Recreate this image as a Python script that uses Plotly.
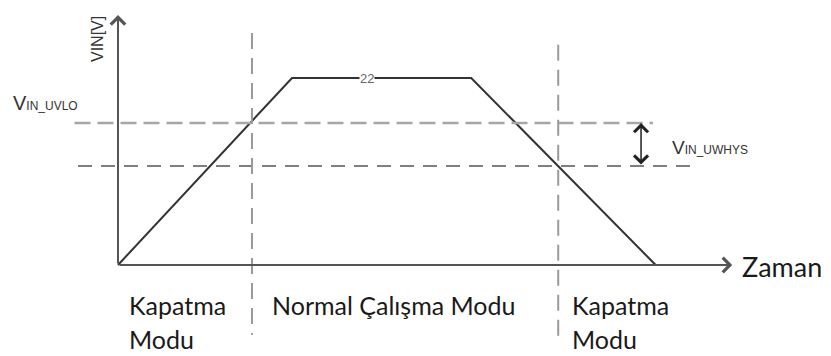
import plotly.graph_objects as go

# ---------------- data (time units, volts) ----------------
t_profile = [0, 10, 20.3, 30.9]
vin_profile = [0, 22, 22, 0]
plateau_label = "22"
v_uvlo_high = 16.7
v_uvlo_low = 11.65
t_mode_change = [7.7, 25.3]
mode_top = ["Kapatma", "Normal Çalışma Modu", "Kapatma"]
mode_bottom = ["Modu", "", "Modu"]
x_title = "Zaman"
y_title = "VIN[V]"

# ---------------- layout helpers ----------------
W, H = 831, 356
X0, Y0 = 118, 265          # pixel position of origin
PX_T, PX_V = 17.4, 8.5     # pixels per unit
x_range = [-X0 / PX_T, (W - X0) / PX_T]
y_range = [(Y0 - H) / PX_V, Y0 / PX_V]

def px(x):
    return x / W

def py(y):
    return 1 - y / H

t_axis_end = 35.3
v_axis_end = 29.4

fig = go.Figure()

# trapezoid profile
fig.add_trace(go.Scatter(x=t_profile, y=vin_profile, mode="lines",
                         line=dict(color="#333333", width=2),
                         hoverinfo="skip", showlegend=False))

# UVLO thresholds (dashed horizontals)
fig.add_trace(go.Scatter(x=[-2.5, 30.75], y=[v_uvlo_high, v_uvlo_high], mode="lines",
                         line=dict(color="#a6a6a6", width=2.5, dash="16px,7px"),
                         hoverinfo="skip", showlegend=False))
fig.add_trace(go.Scatter(x=[-2.3, 33.05], y=[v_uvlo_low, v_uvlo_low], mode="lines",
                         line=dict(color="#555555", width=1.5, dash="14px,9px"),
                         hoverinfo="skip", showlegend=False))

# mode boundaries (dashed verticals)
fig.add_trace(go.Scatter(x=[t_mode_change[0], t_mode_change[0]], y=[27.3, -8.2], mode="lines",
                         line=dict(color="#9a9a9a", width=2, dash="16px,9px"),
                         hoverinfo="skip", showlegend=False))
fig.add_trace(go.Scatter(x=[t_mode_change[1], t_mode_change[1]], y=[25.9, -8.5], mode="lines",
                         line=dict(color="#9a9a9a", width=2, dash="16px,9px"),
                         hoverinfo="skip", showlegend=False))

annotations = []
# axes with chevron arrowheads
annotations.append(dict(x=t_axis_end, y=0, ax=0, ay=0, xref="x", yref="y", axref="x", ayref="y",
                        showarrow=True, arrowhead=4, arrowsize=1.4, arrowwidth=2,
                        arrowcolor="#555555", text=""))
annotations.append(dict(x=0, y=v_axis_end, ax=0, ay=0, xref="x", yref="y", axref="x", ayref="y",
                        showarrow=True, arrowhead=4, arrowsize=1.4, arrowwidth=2,
                        arrowcolor="#555555", text=""))
# hysteresis double arrow
t_hys = 30.06
annotations.append(dict(x=t_hys, y=v_uvlo_high, ax=t_hys, ay=v_uvlo_low, xref="x", yref="y",
                        axref="x", ayref="y", showarrow=True, arrowhead=4, startarrowhead=4,
                        arrowside="end+start", arrowsize=1.8, startarrowsize=1.8, arrowwidth=1.5,
                        arrowcolor="#222222", text=""))

# plateau label
annotations.append(dict(x=(t_profile[1] + t_profile[2]) / 2 - 0.85, y=vin_profile[1], xref="x", yref="y",
                        xanchor="center", yanchor="middle",
                        text=plateau_label, showarrow=False, bgcolor="white", borderpad=0,
                        font=dict(family="Liberation Sans, Arial, sans-serif",
                                  size=13, color="#666666")))

narrow = "Liberation Sans, Arial, sans-serif"
# y axis title
annotations.append(dict(x=px(97), y=py(39), xref="paper", yref="paper", text=y_title,
                        xanchor="center", yanchor="middle",
                        textangle=-90, showarrow=False,
                        font=dict(family=narrow, size=16, color="#333333")))
# threshold labels
annotations.append(dict(x=px(11), y=py(103), xref="paper", yref="paper",
                        xanchor="left", yanchor="middle",
                        text="V<span style='font-size:12px'>IN_UVLO</span>", showarrow=False,
                        font=dict(family=narrow, size=20, color="#333333")))
annotations.append(dict(x=px(670), y=py(147), xref="paper", yref="paper",
                        xanchor="left", yanchor="middle",
                        text="V<span style='font-size:12px'>IN_UWHYS</span>", showarrow=False,
                        font=dict(family=narrow, size=19, color="#333333")))
# x axis title
annotations.append(dict(x=px(740), y=py(266), xref="paper", yref="paper",
                        xanchor="left", yanchor="middle",
                        text=x_title, showarrow=False,
                        font=dict(family="Lato, sans-serif", size=27, color="#1a1a1a")))

# mode labels
mode_x = [127, 270, 570]
for xi, top, bot in zip(mode_x, mode_top, mode_bottom):
    annotations.append(dict(x=px(xi), y=py(305), xref="paper", yref="paper",
                            xanchor="left", yanchor="middle",
                            text=top, showarrow=False,
                            font=dict(family="Lato, sans-serif", size=25, color="#1a1a1a")))
    if bot:
        annotations.append(dict(x=px(xi), y=py(339), xref="paper", yref="paper",
                                xanchor="left", yanchor="middle",
                                text=bot, showarrow=False,
                                font=dict(family="Lato, sans-serif", size=25, color="#1a1a1a")))

fig.update_layout(
    width=W, height=H,
    margin=dict(l=0, r=0, t=0, b=0),
    paper_bgcolor="white", plot_bgcolor="white",
    xaxis=dict(range=x_range, visible=False, fixedrange=True),
    yaxis=dict(range=y_range, visible=False, fixedrange=True),
    annotations=annotations,
    showlegend=False,
)

fig.write_html("out.html", config={"displayModeBar": False},
               post_script="document.body.style.margin='0';document.body.style.overflow='hidden';")
